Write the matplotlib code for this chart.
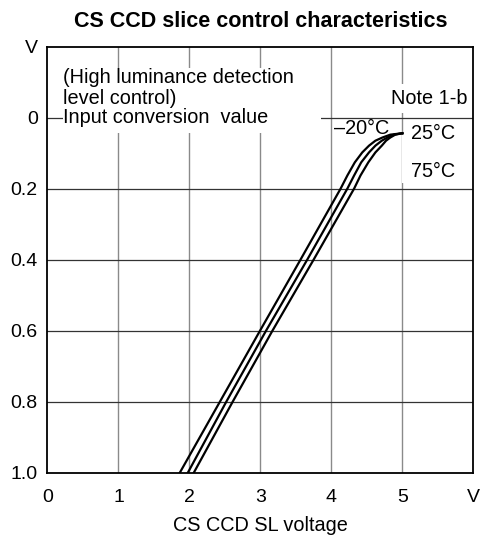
import matplotlib
matplotlib.use('Agg')
import matplotlib.pyplot as plt
from matplotlib.patches import Rectangle

plt.rcParams['font.family'] = ['Liberation Sans', 'DejaVu Sans']

# tick positions / labels
xticks = [0, 1, 2, 3, 4, 5, 6]
xlabels = ['0', '1', '2', '3', '4', '5', 'V']
yticks = [-0.2, 0, 0.2, 0.4, 0.6, 0.8, 1.0]
ylabels = ['V', '0', '0.2', '0.4', '0.6', '0.8', '1.0']

# curves (SL voltage vs. conversion value)
y_pts = [1.0, 0.8, 0.6, 0.4, 0.2, 0.163, 0.126, 0.098, 0.079, 0.065, 0.056, 0.048, 0.044]
x_m20 = [1.865, 2.43, 2.995, 3.565, 4.13, 4.225, 4.33, 4.435, 4.53, 4.62, 4.72, 4.83, 5.0]
x_25 = [1.978, 2.52, 3.08, 3.66, 4.225, 4.32, 4.42, 4.53, 4.62, 4.71, 4.79, 4.88, 5.0]
x_75 = [2.062, 2.61, 3.17, 3.75, 4.32, 4.41, 4.52, 4.62, 4.71, 4.77, 4.83, 4.9, 5.0]

fig = plt.figure(figsize=(4.88, 5.42), dpi=100)
ax = fig.add_axes([0.0973, 0.128, 0.8727, 0.786])

for xv in xticks[1:-1]:
    ax.axvline(xv, color='#8a8a8a', lw=1.0, zorder=1)
for yv in yticks[1:-1]:
    ax.axhline(yv, color='#333333', lw=0.9, zorder=1)

# white backgrounds behind the annotations
ax.add_patch(Rectangle((0.22, -0.139), 3.64, 0.182, facecolor='white',
                       edgecolor='none', zorder=2))
ax.add_patch(Rectangle((5.0, 0.05), 0.7, 0.135, facecolor='white',
                       edgecolor='none', zorder=2))

for xs in (x_m20, x_25, x_75):
    ax.plot(xs, y_pts, color='black', lw=1.6, zorder=3)

fs = 14.3
ax.text(0.22, -0.114, '(High luminance detection', fontsize=fs, va='center', zorder=4)
ax.text(0.22, -0.053, 'level control)', fontsize=fs, va='center', zorder=4)
ax.text(0.22, 0.0, 'Input conversion  value', fontsize=fs, va='center', zorder=4)
ax.text(4.84, -0.055, 'Note 1-b', fontsize=fs, va='center', zorder=4,
        bbox=dict(facecolor='white', edgecolor='none', boxstyle='square,pad=0.25'))
ax.text(4.04, 0.032, '–20°C', fontsize=fs, va='center', zorder=4)
ax.text(5.12, 0.046, '25°C', fontsize=fs, va='center', zorder=4)
ax.text(5.12, 0.152, '75°C', fontsize=fs, va='center', zorder=4)

ax.set_xlim(0, 6)
ax.set_ylim(1.0, -0.2)
ax.set_xticks(xticks)
ax.set_xticklabels(xlabels, fontsize=14)
ax.set_yticks(yticks)
ax.set_yticklabels(ylabels, fontsize=14)
ax.tick_params(length=0, pad=7)
ax.tick_params(axis='x', pad=12)
for s in ax.spines.values():
    s.set_linewidth(1.3)
    s.set_zorder(5)

ax.set_xlabel('CS CCD SL voltage', fontsize=fs, labelpad=7)
ax.set_title('CS CCD slice control characteristics', fontsize=15.5,
             fontweight='bold', pad=14)

fig.savefig('out.png', dpi=100)
